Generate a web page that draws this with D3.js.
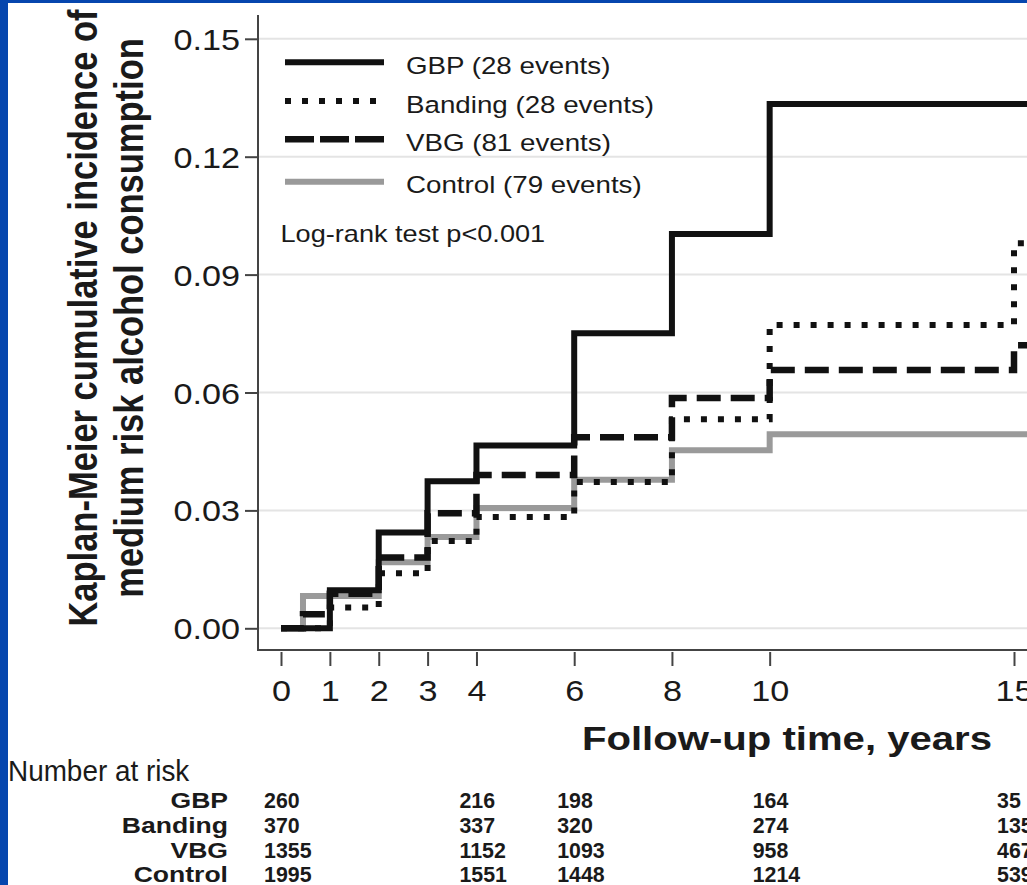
<!DOCTYPE html>
<html>
<head>
<meta charset="utf-8">
<script src="https://cdn.jsdelivr.net/npm/d3@7"></script>
<style>
  html, body { margin: 0; padding: 0; background: #fff; }
  svg { display: block; }
  text { font-family: "Liberation Sans", Arial, sans-serif; fill: #1a1a1a; }
</style>
</head>
<body>
<svg id="chart" width="1027" height="885"></svg>
<script>
// ---------------- data ----------------
const groups = ["GBP", "Banding", "VBG", "Control"];
const events = [28, 28, 81, 79];

const gbpTimes  = [0, 1, 2, 3, 4, 6, 8, 10];
const gbpInc    = [0, 0.0097, 0.0244, 0.0374, 0.0465, 0.0751, 0.1003, 0.1334];
const bandTimes = [0, 1, 2, 3, 4, 6, 8, 10, 15];
const bandInc   = [0, 0.0053, 0.0140, 0.0222, 0.0283, 0.0372, 0.0532, 0.0772, 0.0980];
const vbgTimes  = [0, 0.45, 1, 2, 3, 4, 6, 8, 10, 15];
const vbgInc    = [0, 0.0036, 0.0088, 0.0180, 0.0293, 0.0390, 0.0486, 0.0586, 0.0657, 0.0720];
const ctrlTimes = [0, 0.45, 2, 3, 4, 6, 8, 10];
const ctrlInc   = [0, 0.0082, 0.0168, 0.0232, 0.0306, 0.0378, 0.0453, 0.0494];
const followUpEnd = 16;

const xTicks = [0, 1, 2, 3, 4, 6, 8, 10, 15];
const yTicks = [0, 0.03, 0.06, 0.09, 0.12, 0.15];

const riskTimes   = [0, 4, 6, 10, 15];
const riskGBP     = [260, 216, 198, 164, 35];
const riskBanding = [370, 337, 320, 274, 135];
const riskVBG     = [1355, 1152, 1093, 958, 467];
const riskControl = [1995, 1551, 1448, 1214, 539];

const logRankText = "Log-rank test p<0.001";
const yTitle = ["Kaplan-Meier cumulative incidence of", "medium risk alcohol consumption"];
const xTitle = "Follow-up time, years";
const riskTitle = "Number at risk";

// ---------------- setup ----------------
const svg = d3.select("#chart");
const W = 1027, H = 885;
const SX = 1.18; // horizontal stretch of the original raster

svg.append("rect").attr("width", W).attr("height", H).attr("fill", "#fff");

const x = d3.scaleLinear().domain([0, 15]).range([281, 1014]);
const y = d3.scaleLinear().domain([0, 0.15]).range([628.3, 38.8]);

function stretched(g, px, py, str, size, anchor, weight, sx) {
  return g.append("text")
    .attr("transform", `translate(${px},${py}) scale(${sx || SX},1)`)
    .attr("text-anchor", anchor || "start")
    .attr("font-size", size)
    .attr("font-weight", weight || "normal")
    .text(str);
}

const plot = svg.append("g");

// gridlines
plot.selectAll("line.grid").data(yTicks).join("line")
  .attr("x1", 258).attr("x2", W)
  .attr("y1", d => y(d)).attr("y2", d => y(d))
  .attr("stroke", "#e4e4e4").attr("stroke-width", 2);

// axes
const yAxis = d3.axisLeft(y).tickValues(yTicks).tickSize(13).tickPadding(5)
  .tickFormat(d3.format(".2f"));
const yg = plot.append("g").attr("transform", "translate(258,0)").call(yAxis);
yg.select(".domain").remove();
yg.selectAll(".tick line").attr("stroke", "#444").attr("stroke-width", 2);
yg.selectAll(".tick text").remove();
yg.selectAll(".tick").each(function(d) {
  stretched(d3.select(this), -18, 10.5, d3.format(".2f")(d), 29, "end");
});
plot.append("line").attr("x1", 258).attr("x2", 258).attr("y1", 15).attr("y2", 651)
  .attr("stroke", "#444").attr("stroke-width", 2);

const xAxis = d3.axisBottom(x).tickValues(xTicks).tickSize(14).tickFormat(d3.format("d"));
const xg = plot.append("g").attr("transform", "translate(0,652)").call(xAxis);
xg.select(".domain").remove();
xg.selectAll(".tick line").attr("stroke", "#444").attr("stroke-width", 2);
xg.selectAll(".tick text").remove();
xg.selectAll(".tick").each(function(d) {
  stretched(d3.select(this), 0, 49, String(d), 29, "middle");
});
plot.append("line").attr("x1", 257).attr("x2", W).attr("y1", 650).attr("y2", 650)
  .attr("stroke", "#444").attr("stroke-width", 2);

// curves
const series = [
  { name: "Control", t: ctrlTimes, v: ctrlInc, color: "#9a9a9a", dash: null, w: 6 },
  { name: "Banding", t: bandTimes, v: bandInc, color: "#111", dash: "6,11", w: 6 },
  { name: "VBG",     t: vbgTimes,  v: vbgInc,  color: "#111", dash: "24,10", w: 6.5 },
  { name: "GBP",     t: gbpTimes,  v: gbpInc,  color: "#111", dash: null, w: 6 }
];
const line = d3.line().x(d => x(d[0])).y(d => y(d[1])).curve(d3.curveStepAfter);
series.forEach(s => {
  const pts = s.t.map((t, i) => [t, s.v[i]]);
  pts.push([followUpEnd, s.v[s.v.length - 1]]);
  plot.append("path").datum(pts)
    .attr("d", line)
    .attr("fill", "none")
    .attr("stroke", s.color)
    .attr("stroke-width", s.w)
    .attr("stroke-dasharray", s.dash)
    .attr("stroke-linejoin", "miter");
});

// legend
const legStyles = [
  { color: "#111", dash: null, w: 6 },
  { color: "#111", dash: "6,11", w: 6 },
  { color: "#111", dash: "29,6", w: 6.5 },
  { color: "#9a9a9a", dash: null, w: 6 }
];
const legY = [62.3, 101, 139.3, 181.7];
const leg = svg.append("g");
groups.forEach((g, i) => {
  leg.append("line").attr("x1", 285).attr("x2", 384)
    .attr("y1", legY[i]).attr("y2", legY[i])
    .attr("stroke", legStyles[i].color).attr("stroke-width", legStyles[i].w)
    .attr("stroke-dasharray", legStyles[i].dash);
  stretched(leg, 406, legY[i] + 11.5, `${g} (${events[i]} events)`, 23.5, "start");
});
stretched(leg, 280.5, 241.7, logRankText, 23, "start");

// axis titles
stretched(svg, 787, 750, xTitle, 34, "middle", "bold");
const yt = svg.append("g");
[97, 143].forEach((bx, i) => {
  yt.append("text")
    .attr("transform", `translate(${bx},318) rotate(-90) scale(1,${SX})`)
    .attr("text-anchor", "middle")
    .attr("font-size", 34.5)
    .attr("font-weight", "bold")
    .text(yTitle[i]);
});

// number at risk table
const tbl = svg.append("g");
stretched(tbl, 8, 781, riskTitle, 30, "start", "normal", 0.93);
const riskRows = [riskGBP, riskBanding, riskVBG, riskControl];
const rowY = [808, 833, 858, 882];
riskRows.forEach((row, r) => {
  stretched(tbl, 228, rowY[r], groups[r], 22.5, "end", "bold", 1.18);
  row.forEach((n, c) => {
    stretched(tbl, x(riskTimes[c]) - 17, rowY[r], String(n), 22.5, "start", "bold", 0.95);
  });
});

// blue frame edges
svg.append("rect").attr("x", 0).attr("y", 0).attr("width", 8).attr("height", H).attr("fill", "#0646ae");
svg.append("rect").attr("x", 0).attr("y", 0).attr("width", W).attr("height", 3).attr("fill", "#0646ae");
</script>
</body>
</html>
